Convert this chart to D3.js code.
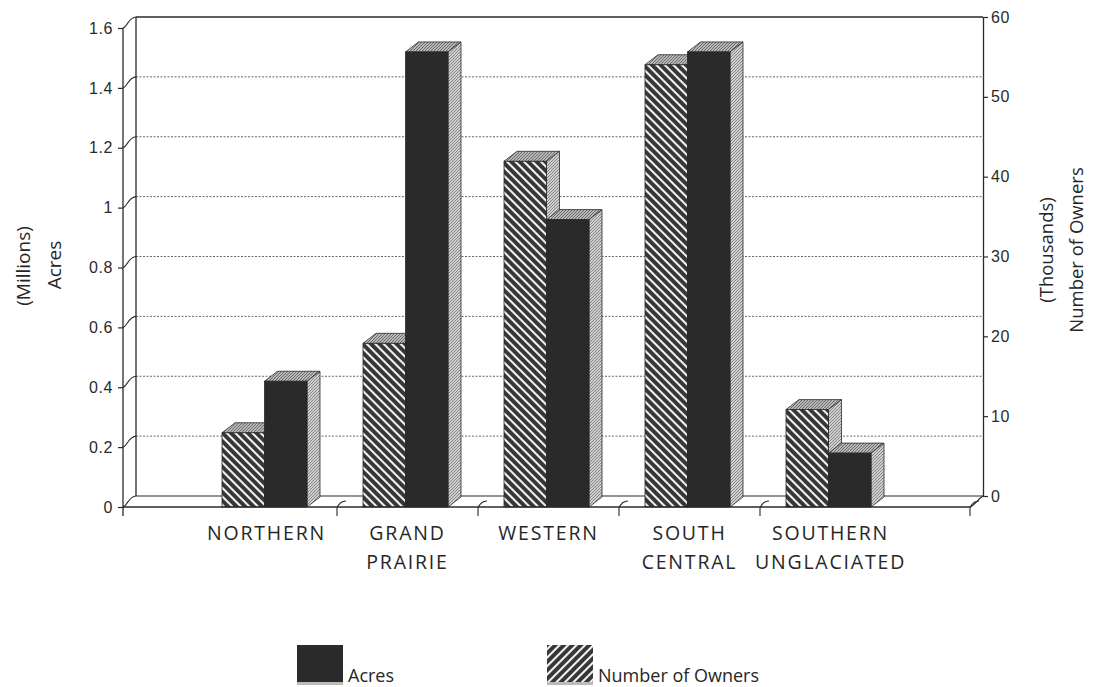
<!DOCTYPE html>
<html>
<head>
<meta charset="utf-8">
<script src="https://cdn.jsdelivr.net/npm/d3@7"></script>
<style>
  body { margin: 0; background: #fff; }
  svg text { font-family: "Open Sans", sans-serif; fill: #262626; }
  .tick text { font-family: "Liberation Sans", Arial, sans-serif; font-size: 16px; letter-spacing: 0.6px; fill: #2a2a2a; }
</style>
</head>
<body>
<div id="chart"></div>
<script>
// data
var categories = ["NORTHERN", "GRAND PRAIRIE", "WESTERN", "SOUTH CENTRAL", "SOUTHERN UNGLACIATED"];
var categoryLines = [["NORTHERN"], ["GRAND", "PRAIRIE"], ["WESTERN"], ["SOUTH", "CENTRAL"], ["SOUTHERN", "UNGLACIATED"]];
var acres = [0.42, 1.52, 0.96, 1.52, 0.18];      // millions
var owners = [9.3, 20.5, 43.3, 55.4, 12.2];      // thousands
var acresTicks = [0, 0.2, 0.4, 0.6, 0.8, 1, 1.2, 1.4, 1.6];
var ownersTicks = [0, 10, 20, 30, 40, 50, 60];
var seriesNames = ["owners", "acres"];
var legendLabels = ["Acres", "Number of Owners"];

// set the dimensions and margins of the graph
var margin = {top: 28, right: 127, bottom: 180, left: 123},
    width = 1097 - margin.left - margin.right,
    height = 687 - margin.top - margin.bottom;

var wall = {dx: 13, dy: -11};   // back wall offset
var depth = {dx: 13, dy: -10};  // bar depth

var svg = d3.select("#chart").append("svg")
    .attr("width", 1097)
    .attr("height", 687);

var defs = svg.append("defs");

// hatch "\\\" for bars
var hatch = defs.append("pattern")
    .attr("id", "hatch")
    .attr("patternUnits", "userSpaceOnUse")
    .attr("width", 6).attr("height", 6)
    .attr("patternTransform", "rotate(-45)");
hatch.append("rect").attr("width", 6).attr("height", 6).attr("fill", "#353535");
hatch.append("line").attr("x1", 3).attr("x2", 3).attr("y1", 0).attr("y2", 6)
    .attr("stroke", "#f2f2f2").attr("stroke-width", 2.1);

// hatch "///" for legend swatch
var hatch2 = defs.append("pattern")
    .attr("id", "hatch2")
    .attr("patternUnits", "userSpaceOnUse")
    .attr("width", 6).attr("height", 6)
    .attr("patternTransform", "rotate(45)");
hatch2.append("rect").attr("width", 6).attr("height", 6).attr("fill", "#353535");
hatch2.append("line").attr("x1", 3).attr("x2", 3).attr("y1", 0).attr("y2", 6)
    .attr("stroke", "#f2f2f2").attr("stroke-width", 2.1);

// stipple for side and top faces
function stipple(id, bg, dot) {
  var p = defs.append("pattern")
      .attr("id", id)
      .attr("patternUnits", "userSpaceOnUse")
      .attr("width", 3).attr("height", 3);
  p.append("rect").attr("width", 3).attr("height", 3).attr("fill", bg);
  p.append("rect").attr("x", 0).attr("y", 0).attr("width", 1).attr("height", 1).attr("fill", dot);
  p.append("rect").attr("x", 2).attr("y", 1).attr("width", 1).attr("height", 1).attr("fill", dot);
  p.append("rect").attr("x", 1).attr("y", 2).attr("width", 1).attr("height", 1).attr("fill", dot);
}
stipple("side", "#cfcfcf", "#858585");
stipple("top", "#b8b8b8", "#6a6a6a");

var g = svg.append("g")
    .attr("transform", "translate(" + margin.left + "," + margin.top + ")");

// set the ranges
var x0 = d3.scaleBand()
    .domain(categories)
    .range([73, 778]);
var x1 = d3.scaleBand()
    .domain(seriesNames)
    .range([26, 111]);
var yAcres = d3.scaleLinear().domain([0, 1.6]).range([height, 0]);
var yOwners = d3.scaleLinear().domain([0, 60]).range([height, 0]);

var stroke = "#2a2a2a";

// back wall gridlines
g.selectAll(".grid")
    .data(acresTicks.filter(function(d) { return d > 0 && d < 1.6; }))
  .enter().append("line")
    .attr("class", "grid")
    .attr("x1", wall.dx)
    .attr("x2", width + wall.dx)
    .attr("y1", function(d) { return yAcres(d) + wall.dy; })
    .attr("y2", function(d) { return yAcres(d) + wall.dy; })
    .attr("stroke", "#666")
    .attr("stroke-width", 1)
    .attr("stroke-dasharray", "2,1.5");

// wall top, wall left edge, floor back edge
g.append("line")
    .attr("x1", wall.dx).attr("x2", width + wall.dx)
    .attr("y1", yAcres(1.6) + wall.dy).attr("y2", yAcres(1.6) + wall.dy)
    .attr("stroke", stroke).attr("stroke-width", 1.3);
g.append("line")
    .attr("x1", wall.dx).attr("x2", wall.dx)
    .attr("y1", yAcres(1.6) + wall.dy).attr("y2", yAcres(0) + wall.dy)
    .attr("stroke", stroke).attr("stroke-width", 1.3);
g.append("line")
    .attr("x1", wall.dx).attr("x2", width + wall.dx)
    .attr("y1", yAcres(0) + wall.dy).attr("y2", yAcres(0) + wall.dy)
    .attr("stroke", stroke).attr("stroke-width", 1.2);

// bars
var rows = categories.map(function(c, i) {
  return {cat: c, owners: owners[i], acres: acres[i]};
});

function drawBar(sel, x, w, yTop, fill) {
  var y0 = height;
  sel.append("path")
      .attr("d", "M" + x + "," + yTop + "L" + (x + depth.dx) + "," + (yTop + depth.dy) +
                 "L" + (x + w + depth.dx) + "," + (yTop + depth.dy) + "L" + (x + w) + "," + yTop + "Z")
      .attr("fill", "url(#top)").attr("stroke", stroke).attr("stroke-width", 0.8);
  sel.append("path")
      .attr("d", "M" + (x + w) + "," + yTop + "L" + (x + w + depth.dx) + "," + (yTop + depth.dy) +
                 "L" + (x + w + depth.dx) + "," + (y0 + depth.dy) + "L" + (x + w) + "," + y0 + "Z")
      .attr("fill", "url(#side)").attr("stroke", stroke).attr("stroke-width", 0.8);
  sel.append("rect")
      .attr("x", x).attr("y", yTop)
      .attr("width", w).attr("height", y0 - yTop)
      .attr("fill", fill).attr("stroke", stroke).attr("stroke-width", 0.8);
}

var groups = g.selectAll(".group")
    .data(rows)
  .enter().append("g")
    .attr("class", "group");

groups.each(function(d) {
  var sel = d3.select(this);
  var bx = x0(d.cat);
  drawBar(sel, bx + x1("owners"), x1.bandwidth(), yOwners(d.owners), "url(#hatch)");
  drawBar(sel, bx + x1("acres"), x1.bandwidth(), yAcres(d.acres), "#2a2a2a");
});

// floor front edge
g.append("line")
    .attr("x1", 0).attr("x2", width)
    .attr("y1", height).attr("y2", height)
    .attr("stroke", stroke).attr("stroke-width", 1.3);
g.append("path")
    .attr("d", "M" + width + "," + height + "C" + (width + 5) + "," + (height - 2) + " " +
               (width + 8) + "," + (height + wall.dy + 3) + " " + (width + wall.dx) + "," + (height + wall.dy))
    .attr("fill", "none").attr("stroke", stroke).attr("stroke-width", 1.2);

// category separator ticks
var sepX = categories.slice(1).map(function(c) { return x0(c); }).concat([width]);
g.selectAll(".sep")
    .data(sepX)
  .enter().append("path")
    .attr("class", "sep")
    .attr("d", function(d) {
      return "M" + d + "," + (height + 9) + "L" + d + "," + (height + 1) +
             "C" + (d + 2) + "," + (height - 4) + " " + (d + 5) + "," + (height - 6) + " " +
             (d + 9) + "," + (height - 6);
    })
    .attr("fill", "none").attr("stroke", stroke).attr("stroke-width", 1.1);

// category labels
var labels = g.selectAll(".cat")
    .data(categories)
  .enter().append("text")
    .attr("class", "cat")
    .attr("x", function(d) { return x0(d) + x0.bandwidth() / 2; })
    .attr("y", height + 33)
    .attr("text-anchor", "middle")
    .style("font-size", "19.5px")
    .style("letter-spacing", "1.8px");
labels.each(function(d, i) {
  var t = d3.select(this);
  categoryLines[i].forEach(function(line, j) {
    t.append("tspan")
        .attr("x", x0(d) + x0.bandwidth() / 2)
        .attr("dy", j === 0 ? 0 : 29)
        .text(line);
  });
});

// left axis (front)
var leftAxis = g.append("g")
    .call(d3.axisLeft(yAcres)
      .tickValues(acresTicks)
      .tickSize(5)
      .tickPadding(5)
      .tickFormat(d3.format("~g")));
leftAxis.select(".domain").remove();
leftAxis.selectAll(".tick line").attr("stroke", stroke).attr("stroke-width", 1.2);
g.append("line")
    .attr("x1", 0).attr("x2", 0)
    .attr("y1", yAcres(1.6)).attr("y2", height + 9)
    .attr("stroke", stroke).attr("stroke-width", 1.3);
// connectors from front ticks to back wall
g.selectAll(".conn")
    .data(acresTicks)
  .enter().append("path")
    .attr("class", "conn")
    .attr("d", function(d) {
      var y = yAcres(d);
      return "M0," + y + "C4," + (y - 1) + " 6," + (y + wall.dy) + " " + wall.dx + "," + (y + wall.dy);
    })
    .attr("fill", "none").attr("stroke", stroke).attr("stroke-width", 1.1);

// right axis (back)
var rightAxis = g.append("g")
    .attr("transform", "translate(" + (width + wall.dx) + "," + wall.dy + ")")
    .call(d3.axisRight(yOwners)
      .tickValues(ownersTicks)
      .tickSize(5)
      .tickPadding(3)
      .tickSizeOuter(0));
rightAxis.select(".domain").attr("stroke", stroke).attr("stroke-width", 1.3);
rightAxis.selectAll(".tick line").attr("stroke", stroke).attr("stroke-width", 1.2);

// axis titles
svg.append("text")
    .attr("transform", "translate(23,266) rotate(-90)")
    .attr("text-anchor", "middle").attr("dy", "0.35em")
    .style("font-size", "19px")
    .text("(Millions)");
svg.append("text")
    .attr("transform", "translate(54,265) rotate(-90)")
    .attr("text-anchor", "middle").attr("dy", "0.35em")
    .style("font-size", "19px")
    .text("Acres");
svg.append("text")
    .attr("transform", "translate(1047,250) rotate(-90)")
    .attr("text-anchor", "middle").attr("dy", "0.35em")
    .style("font-size", "18.5px")
    .text("(Thousands)");
svg.append("text")
    .attr("transform", "translate(1077,250) rotate(-90)")
    .attr("text-anchor", "middle").attr("dy", "0.35em")
    .style("font-size", "18.5px")
    .text("Number of Owners");

// legend
var legendX = d3.scaleOrdinal().domain(legendLabels).range([297, 547]);
var legendFill = d3.scaleOrdinal().domain(legendLabels).range(["#2a2a2a", "url(#hatch2)"]);
var legend = svg.selectAll(".legend")
    .data(legendLabels)
  .enter().append("g")
    .attr("class", "legend")
    .attr("transform", function(d) { return "translate(" + legendX(d) + ",645)"; });
legend.append("rect")
    .attr("width", 46).attr("height", 40)
    .attr("fill", function(d) { return legendFill(d); });
legend.append("rect")
    .attr("y", 37).attr("width", 46).attr("height", 3)
    .attr("fill", "#bbb");
legend.append("text")
    .attr("x", 51).attr("y", 37)
    .style("font-size", "18px")
    .text(function(d) { return d; });
</script>
</body>
</html>
